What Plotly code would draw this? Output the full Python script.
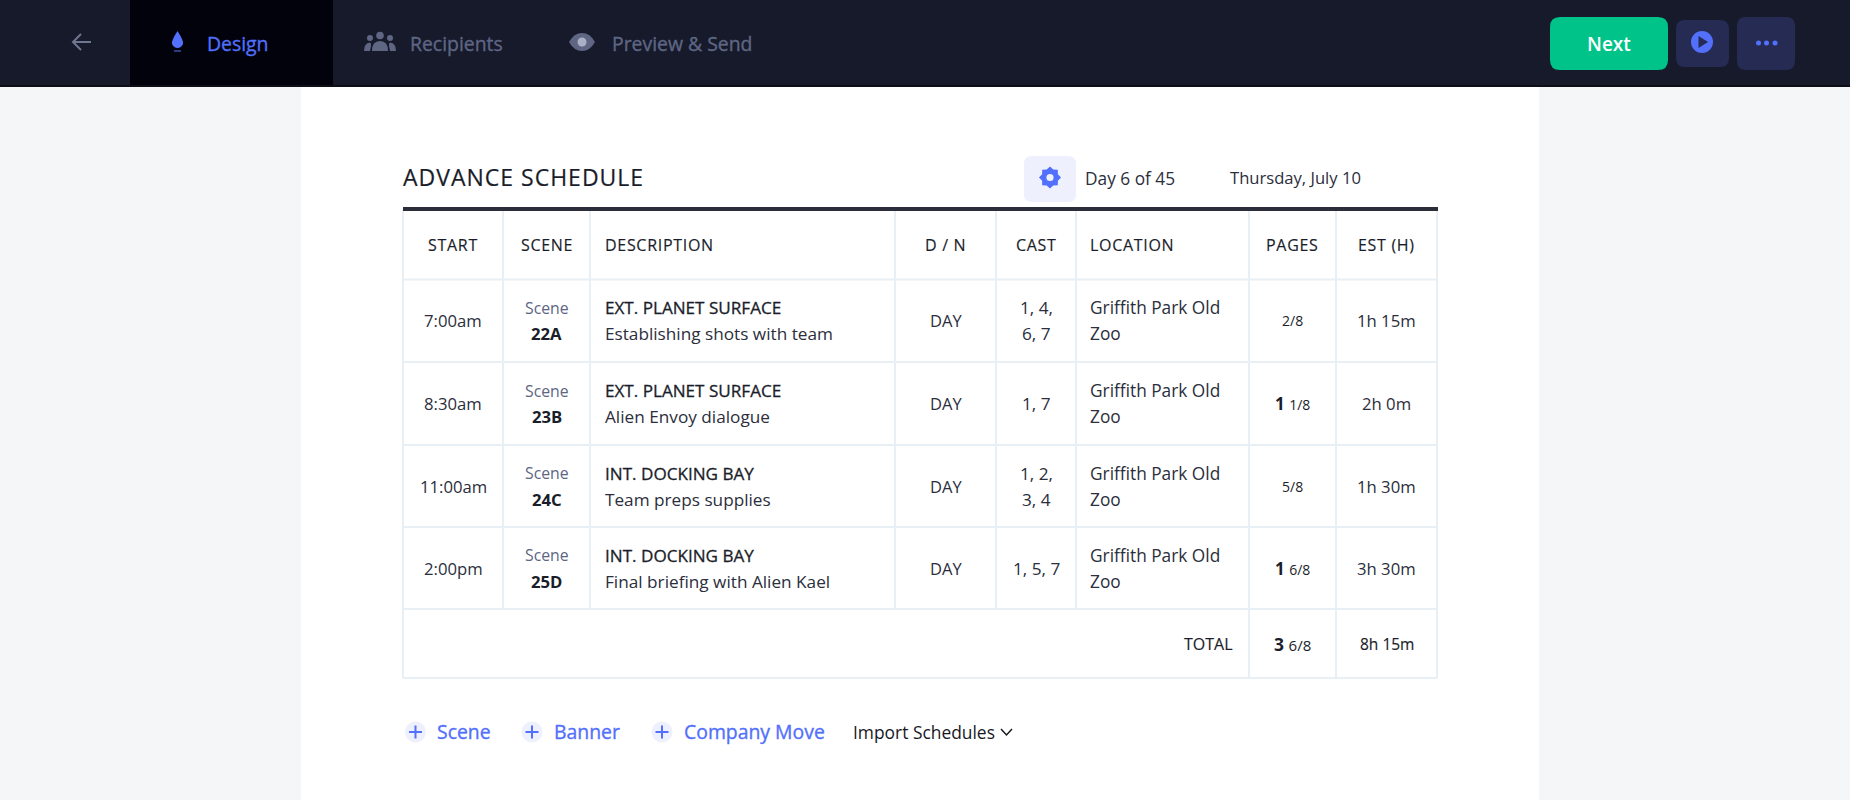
import math
import plotly.graph_objects as go

# table content
headers = ["START", "SCENE", "DESCRIPTION", "D / N", "CAST", "LOCATION", "PAGES", "EST (H)"]
start_times = ["7:00am", "8:30am", "11:00am", "2:00pm"]
scene_ids = ["22A", "23B", "24C", "25D"]
slug_lines = ["EXT. PLANET SURFACE", "EXT. PLANET SURFACE", "INT. DOCKING BAY", "INT. DOCKING BAY"]
descriptions = ["Establishing shots with team", "Alien Envoy dialogue", "Team preps supplies", "Final briefing with Alien Kael"]
day_night = ["DAY", "DAY", "DAY", "DAY"]
cast_lists = [["1, 4,", "6, 7"], ["1, 7"], ["1, 2,", "3, 4"], ["1, 5, 7"]]
location_lines = ["Griffith Park Old", "Zoo"]
pages_whole = ["", "1", "", "1"]
pages_frac = ["2/8", "1/8", "5/8", "6/8"]
estimates = ["1h 15m", "2h 0m", "1h 30m", "3h 30m"]
total_pages = ("3", "6/8")
total_est = "8h 15m"

# grid, in page pixels
col_edges = [403, 503, 590, 895, 996, 1076, 1249, 1336, 1437]
row_edges = [209, 279.5, 362, 445, 527, 609, 678]

NAV = "#171a2b"
ACCENT = "#5270fb"
MUTED = "#5e6684"
INK = "#1a1d2a"
BODY = "#2b2e3c"
GRID = "#e8eff5"
FONT = "Open Sans"

shapes = []
annotations = []


def text(x, y, s, size=16, color=INK, anchor="center", weight=400):
    annotations.append(dict(x=x, y=y, text=s, xref="x", yref="y", showarrow=False, xanchor=anchor,
                            yanchor="middle", borderpad=0, borderwidth=0,
                            font=dict(family=FONT, size=size, color=color, weight=weight)))


# the installed font has no medium cut, a thin stroke stands in for it
def medium(s, color=INK, spacing=0, stroke=0.35):
    return f'<span style="stroke:{color};stroke-width:{stroke}px;letter-spacing:{spacing}px">{s}</span>'


def rect(x0, y0, x1, y1, fill):
    shapes.append(dict(type="rect", x0=x0, y0=y0, x1=x1, y1=y1, fillcolor=fill, line=dict(width=0)))


def rounded(x0, y0, x1, y1, r, fill):
    p = (f"M{x0+r},{y0} L{x1-r},{y0} Q{x1},{y0} {x1},{y0+r} L{x1},{y1-r} Q{x1},{y1} {x1-r},{y1} "
         f"L{x0+r},{y1} Q{x0},{y1} {x0},{y1-r} L{x0},{y0+r} Q{x0},{y0} {x0+r},{y0} Z")
    shapes.append(dict(type="path", path=p, fillcolor=fill, line=dict(width=0)))


def circle(cx, cy, r, fill):
    shapes.append(dict(type="circle", x0=cx-r, y0=cy-r, x1=cx+r, y1=cy+r, fillcolor=fill, line=dict(width=0)))


def path(p, fill=None, line=None, width=2):
    shapes.append(dict(type="path", path=p, fillcolor=fill if fill else "rgba(0,0,0,0)",
                       line=dict(width=width if line else 0, color=line)))


def hline(y, x0, x1, color=GRID, width=2):
    shapes.append(dict(type="line", x0=x0, x1=x1, y0=y, y1=y, line=dict(color=color, width=width)))


def vline(x, y0, y1, color=GRID, width=2):
    shapes.append(dict(type="line", x0=x, x1=x, y0=y0, y1=y1, line=dict(color=color, width=width)))


# page background
rect(0, 0, 1850, 800, "#f5f6f8")
rect(301, 86, 1539, 800, "#ffffff")

# top bar
rect(0, 0, 1850, 86, NAV)
rect(130, 0, 333, 85, "#01020b")
rect(0, 85, 1850, 87, "#0d0e18")
path("M91,42 L74,42 M81,34 L73,42 L81,50", line="#6f7690", width=2)
path("M177.5,31 Q184,41 183,44 Q181,48 177.5,48 Q174,48 172,44 Q171,41 177.5,31 Z", fill=ACCENT)
rect(174, 50, 181, 52, "#2c3a80")
text(237.5, 43.5, medium("Design", ACCENT), 19.4, ACCENT)
circle(380, 35.5, 3.8, MUTED)
circle(370, 38, 3, MUTED)
circle(390, 38, 3, MUTED)
path("M372,51 Q372,41 380,41 Q388,41 388,51 Z", fill=MUTED)
path("M364,51 Q364,43 370,42.5 Q372,43 370,51 Z", fill=MUTED)
path("M396,51 Q396,43 390,42.5 Q388,43 390,51 Z", fill=MUTED)
text(456, 43.5, medium("Recipients", MUTED), 19.4, MUTED)
path("M569,42 Q574,33 582,33 Q590,33 595,42 Q590,51 582,51 Q574,51 569,42 Z", fill=MUTED)
circle(582, 42, 4.5, "#aab0c6")
text(681.5, 43.5, medium("Preview &amp; Send", MUTED), 19.4, MUTED)

rounded(1550, 17, 1668, 70, 10, "#00c389")
text(1609, 44, "Next", 19, "#ffffff", weight=600)
rounded(1676, 20, 1729, 67, 9, "#252b53")
circle(1702, 42, 11, ACCENT)
path("M1698.5,36 L1708,42 L1698.5,48 Z", fill="#252b53")
rounded(1737, 17, 1795, 70, 9, "#252b53")
for dot_x in [1758.5, 1766.5, 1775]:
    circle(dot_x, 43, 2.5, ACCENT)

# heading row
text(403, 176.5, medium("ADVANCE SCHEDULE", INK, 1, 0.2), 23, INK, "left")
rounded(1024, 156, 1076, 202, 8, "#eef0fe")
gear = []
for i in range(16):
    a = i * math.pi / 8
    r = 11 if i % 2 == 0 else 8.5
    gear.append(f"{1050 + r*math.sin(a):.1f},{177.5 - r*math.cos(a):.1f}")
path("M" + " L".join(gear) + " Z", fill=ACCENT)
circle(1050, 177.5, 3.6, "#eef0fe")
text(1085, 178, "Day 6 of 45", 17.3, BODY, "left")
text(1230, 177, "Thursday, July 10", 16.6, BODY, "left")

# table grid
for y in row_edges[1:]:
    hline(y, col_edges[0], col_edges[-1])
vline(col_edges[0], row_edges[0], row_edges[-1])
vline(col_edges[-1], row_edges[0], row_edges[-1])
for x in col_edges[1:-1]:
    vline(x, row_edges[0], row_edges[5])
for x in col_edges[-3:-1]:
    vline(x, row_edges[5], row_edges[-1])
rect(col_edges[0], 207, col_edges[-1] + 1, 211, "#2b2e3a")

# header row
header_y = 245
mids = [(a + b) / 2 for a, b in zip(col_edges, col_edges[1:])]
for i, h in enumerate(headers):
    if h == "DESCRIPTION":
        text(605, header_y, medium(h, INK, 0.7, 0.15), 16, INK, "left")
    elif h == "LOCATION":
        text(1090, header_y, medium(h, INK, 0.7, 0.15), 16, INK, "left")
    else:
        text(mids[i], header_y, medium(h, INK, 0.7, 0.15), 16, INK)

# body rows
for i in range(4):
    cy = (row_edges[i + 1] + row_edges[i + 2]) / 2
    text(mids[0], cy, start_times[i], 16.7, BODY)
    text(mids[1], cy - 13, "Scene", 15.8, MUTED)
    text(mids[1], cy + 13, scene_ids[i], 16.7, INK, weight=700)
    text(605, cy - 13, medium(slug_lines[i], INK, 0, 0.3), 17.1, INK, "left")
    text(605, cy + 13, descriptions[i], 17.2, BODY, "left")
    text(mids[3], cy, day_night[i], 16.5, BODY)
    if len(cast_lists[i]) == 2:
        text(mids[4], cy - 13, cast_lists[i][0], 17.2, BODY)
        text(mids[4], cy + 13, cast_lists[i][1], 17.2, BODY)
    else:
        text(mids[4], cy, cast_lists[i][0], 17.2, BODY)
    text(1090, cy - 13, location_lines[0], 17.3, BODY, "left")
    text(1090, cy + 13, location_lines[1], 17.3, BODY, "left")
    frac = f'<span style="font-size:14px">{pages_frac[i]}</span>'
    label = f"<b>{pages_whole[i]}</b> {frac}" if pages_whole[i] else frac
    text(mids[6] - 0.5, cy, label, 17, INK)
    text(mids[7], cy, estimates[i], 16.7, BODY)

# total row
total_y = 644
text(1233, total_y, medium("TOTAL", INK, 0, 0.15), 16, INK, "right")
text(mids[6] - 0.5, total_y, f'<b>{total_pages[0]}</b> <span style="font-size:15px">{total_pages[1]}</span>', 17.5, INK)
text(mids[7], total_y, medium(total_est, INK, 0, 0.15), 15.5, INK)

# add row actions
action_y = 732
for cx, tx, label in [(415.5, 437, "Scene"), (532, 554, "Banner"), (662, 683.5, "Company Move")]:
    circle(cx, action_y, 10.5, "#eef0fe")
    path(f"M{cx-6.5},{action_y} L{cx+6.5},{action_y} M{cx},{action_y-6.5} L{cx},{action_y+6.5}", line=ACCENT, width=2)
    text(tx, action_y - 1, medium(label, ACCENT), 19.4, ACCENT, "left")
text(853, action_y, "Import Schedules", 17.4, "#17181f", "left")
path(f"M1001,{action_y-3} L1006.5,{action_y+3} L1012,{action_y-3}", line="#17181f", width=1.5)

fig = go.Figure()
fig.update_layout(
    width=1850, height=800, margin=dict(l=0, r=0, t=0, b=0), showlegend=False,
    paper_bgcolor="#f5f6f8", plot_bgcolor="#f5f6f8",
    xaxis=dict(range=[0, 1850], visible=False, fixedrange=True),
    yaxis=dict(range=[800, 0], visible=False, fixedrange=True),
    shapes=shapes, annotations=annotations,
)
fig.write_html("out.html", config=dict(displayModeBar=False),
               post_script="document.body.style.margin='0';document.body.style.overflow='hidden';")
